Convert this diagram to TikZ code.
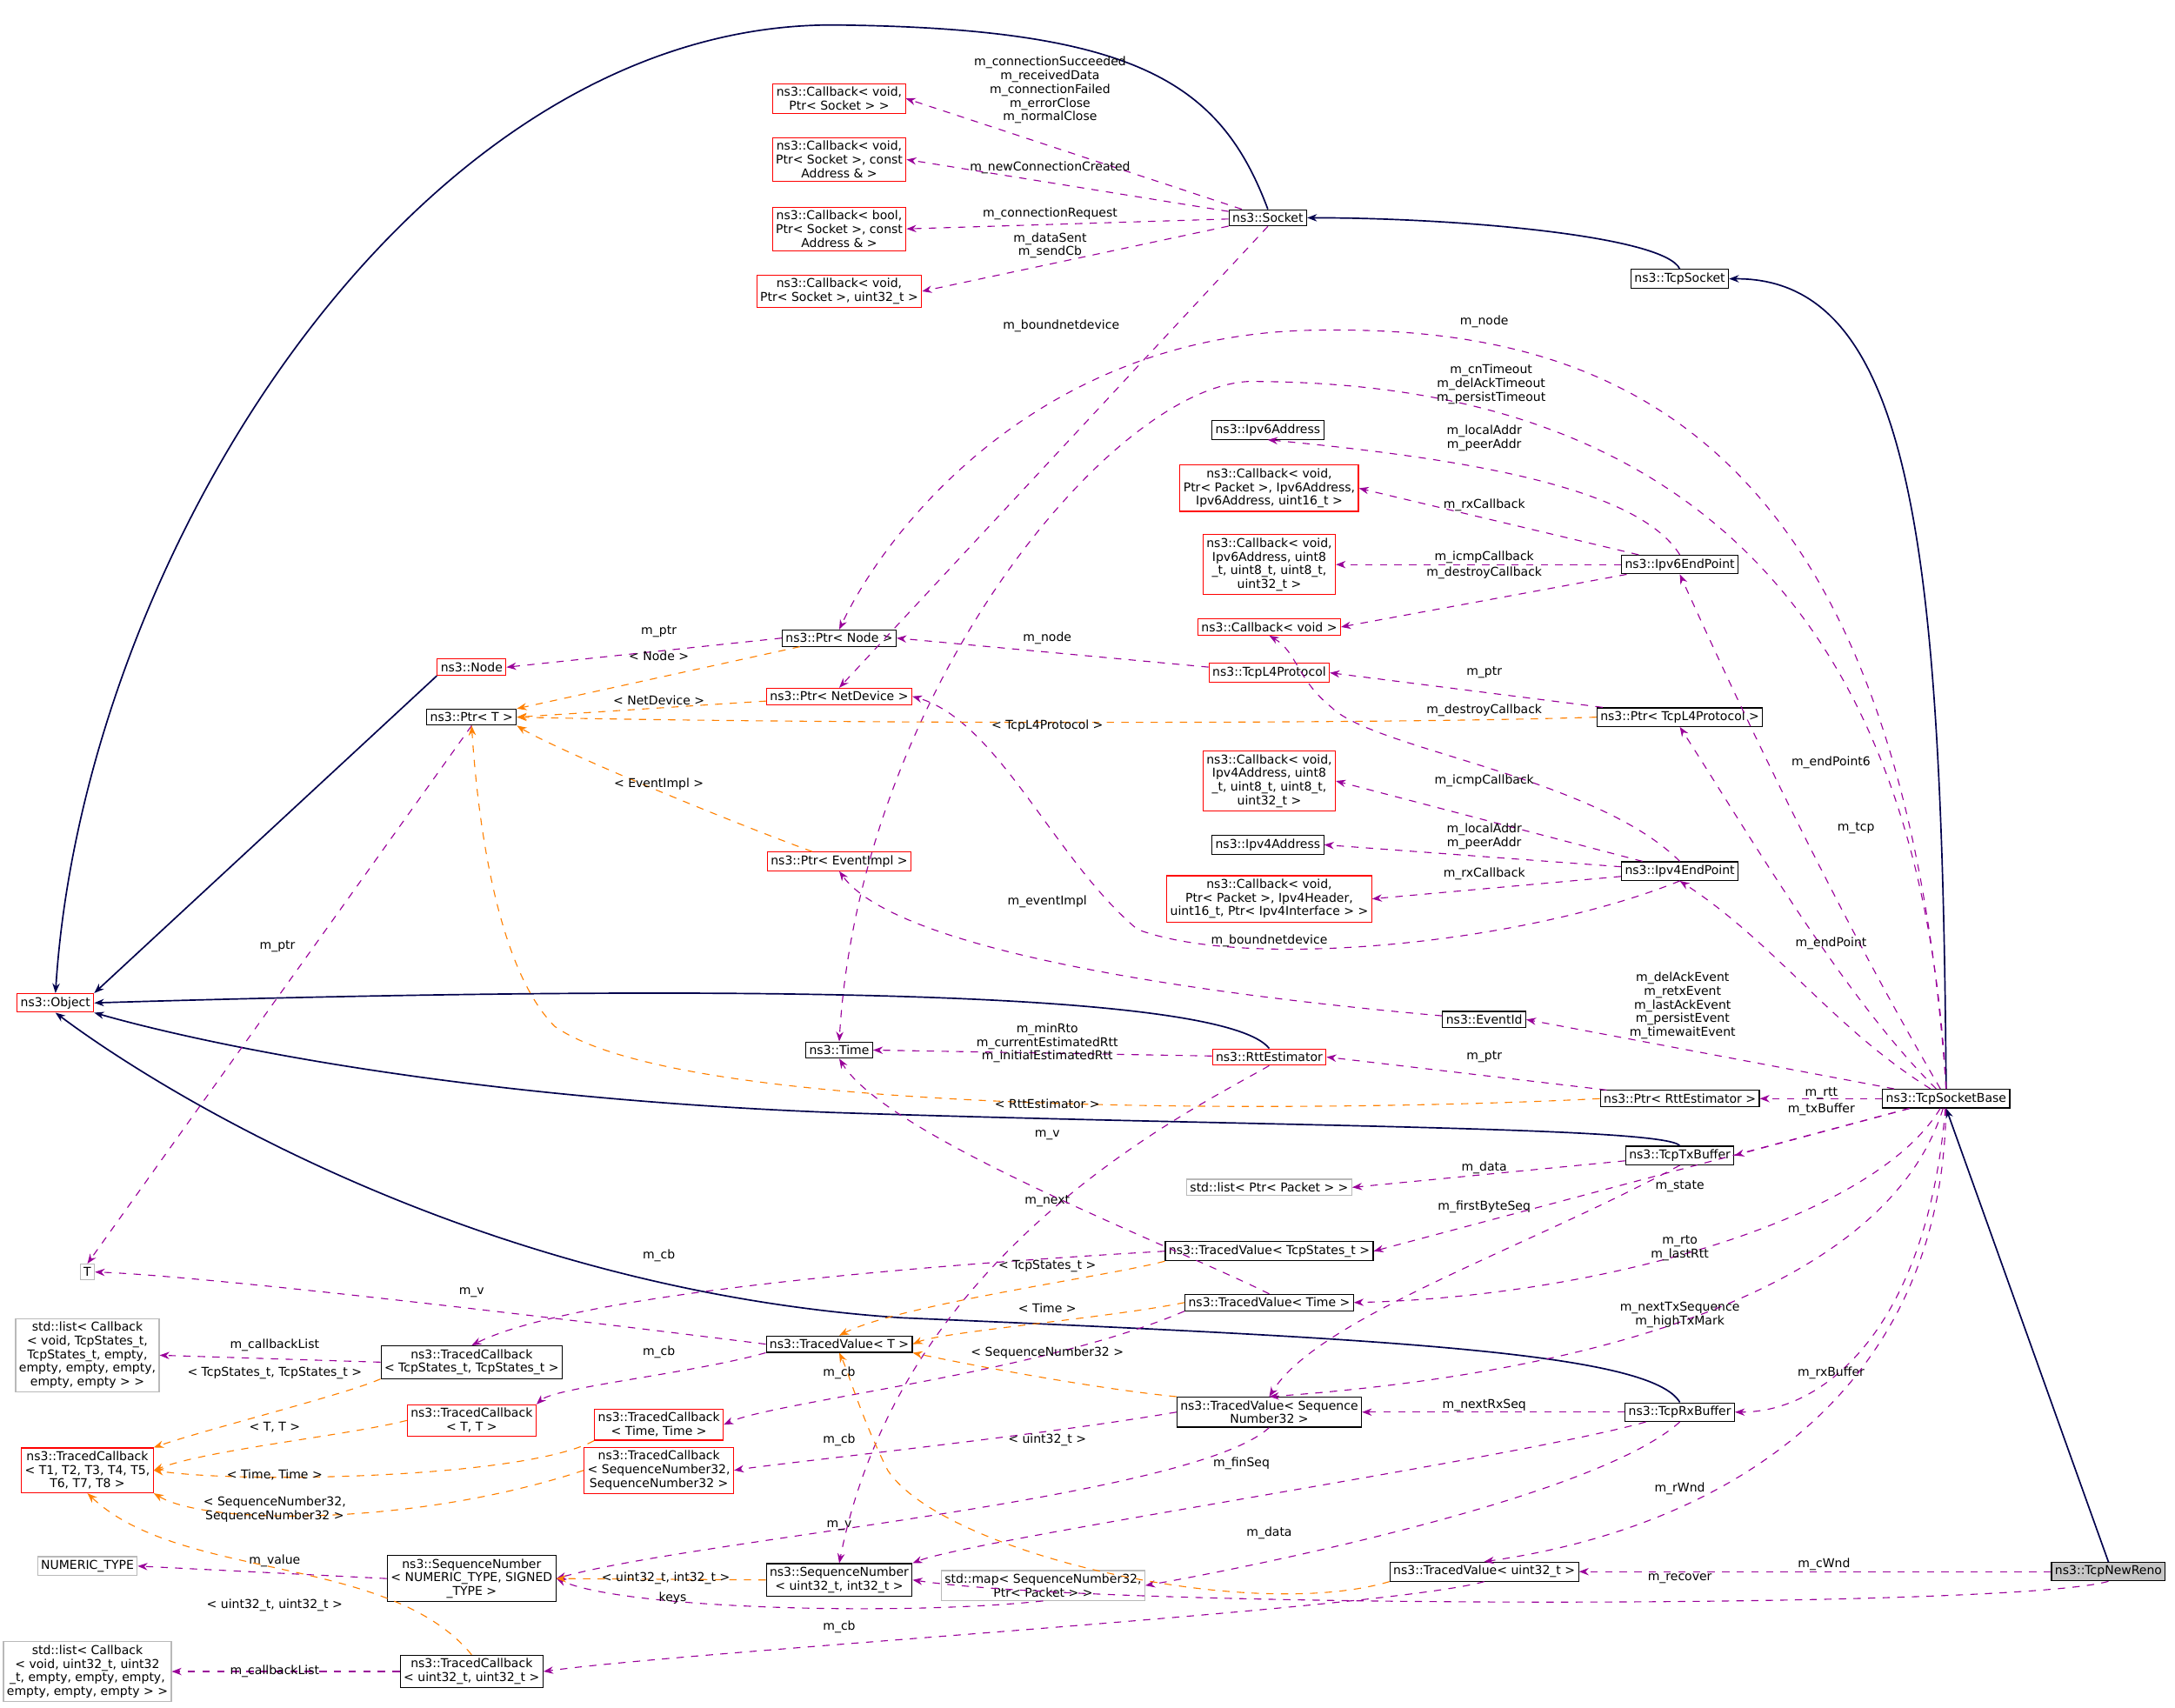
\documentclass[tikz,border=0pt]{standalone}
\usepackage{fontspec}
\setmainfont{DejaVu Sans}
\usetikzlibrary{arrows.meta}
\tikzset{
  cls/.style={draw=black,fill=white,align=center,inner sep=1.4pt,font=\fontsize{5}{5.6}\selectfont},
  bad/.style={cls,draw=red},
  ext/.style={cls,draw=gray!55},
  cur/.style={cls,fill=gray!45},
  lbl/.style={align=center,inner sep=0pt,font=\fontsize{5}{5.6}\selectfont},
  inh/.style={draw=blue!30!black,semithick,-{Stealth[length=4pt]}},
  use/.style={draw=violet!80!magenta,dashed,-{Stealth[length=4pt]}},
  tpl/.style={draw=orange,dashed,-{Stealth[length=4pt]}},
}
\begin{document}
\begin{tikzpicture}[x=0.02cm,y=-0.02cm]
\useasboundingbox (0,0) rectangle (1568,1231);
% classes
\node[cls] (sock) at (914,157) {ns3::Socket};
\node[cls] (tcps) at (1211,201) {ns3::TcpSocket};
\node[bad] (cbA) at (605,71) {ns3::Callback< void,\\Ptr< Socket > >};
\node[bad] (cbB) at (605,115) {ns3::Callback< void,\\Ptr< Socket >, const\\Address \& >};
\node[bad] (cbC) at (605,165) {ns3::Callback< bool,\\Ptr< Socket >, const\\Address \& >};
\node[bad] (cbD) at (605,210) {ns3::Callback< void,\\Ptr< Socket >, uint32\_t >};
\node[cls] (ip6a) at (914,310) {ns3::Ipv6Address};
\node[bad] (cbE) at (915,352) {ns3::Callback< void,\\Ptr< Packet >, Ipv6Address,\\Ipv6Address, uint16\_t >};
\node[bad] (cbF) at (915,407) {ns3::Callback< void,\\Ipv6Address, uint8\\\_t, uint8\_t, uint8\_t,\\uint32\_t >};
\node[cls] (ip6e) at (1211,407) {ns3::Ipv6EndPoint};
\node[bad] (cbV) at (915,452) {ns3::Callback< void >};
\node[bad] (l4p) at (915,485) {ns3::TcpL4Protocol};
\node[cls] (pl4) at (1211,517) {ns3::Ptr< TcpL4Protocol >};
\node[cls] (pnode) at (605,460) {ns3::Ptr< Node >};
\node[bad] (pdev) at (605,502) {ns3::Ptr< NetDevice >};
\node[bad] (node) at (340,481) {ns3::Node};
\node[cls] (ptrt) at (340,517) {ns3::Ptr< T >};
\node[bad] (cbG) at (915,563) {ns3::Callback< void,\\Ipv4Address, uint8\\\_t, uint8\_t, uint8\_t,\\uint32\_t >};
\node[cls] (ip4a) at (914,609) {ns3::Ipv4Address};
\node[bad] (cbH) at (915,648) {ns3::Callback< void,\\Ptr< Packet >, Ipv4Header,\\uint16\_t, Ptr< Ipv4Interface > >};
\node[cls] (ip4e) at (1211,628) {ns3::Ipv4EndPoint};
\node[bad] (pev) at (605,621) {ns3::Ptr< EventImpl >};
\node[bad] (obj) at (40,723) {ns3::Object};
\node[cls] (evid) at (1070,735) {ns3::EventId};
\node[cls] (time) at (605,757) {ns3::Time};
\node[bad] (rtt) at (915,762) {ns3::RttEstimator};
\node[cls] (prtt) at (1211,792) {ns3::Ptr< RttEstimator >};
\node[cls] (tsb) at (1403,792) {ns3::TcpSocketBase};
\node[cls] (txb) at (1211,833) {ns3::TcpTxBuffer};
\node[ext] (lpk) at (915,856) {std::list< Ptr< Packet > >};
\node[ext] (tt) at (63,917) {T};
\node[cls] (tvst) at (915,902) {ns3::TracedValue< TcpStates\_t >};
\node[cls] (tvtm) at (915,939) {ns3::TracedValue< Time >};
\node[cls] (tvt) at (605,969) {ns3::TracedValue< T >};
\node[ext] (lcbA) at (63,977) {std::list< Callback\\< void, TcpStates\_t,\\TcpStates\_t, empty,\\empty, empty, empty,\\empty, empty > >};
\node[cls] (tcst) at (340,982) {ns3::TracedCallback\\< TcpStates\_t, TcpStates\_t >};
\node[bad] (tctt) at (340,1024) {ns3::TracedCallback\\< T, T >};
\node[bad] (tctm) at (475,1027) {ns3::TracedCallback\\< Time, Time >};
\node[bad] (tcb) at (63,1060) {ns3::TracedCallback\\< T1, T2, T3, T4, T5,\\T6, T7, T8 >};
\node[cls] (tvsq) at (915,1018) {ns3::TracedValue< Sequence\\Number32 >};
\node[bad] (tcsq) at (475,1060) {ns3::TracedCallback\\< SequenceNumber32,\\SequenceNumber32 >};
\node[cls] (rxb) at (1211,1018) {ns3::TcpRxBuffer};
\node[ext] (num) at (63,1129) {NUMERIC\_TYPE};
\node[cls] (sqn) at (340,1138) {ns3::SequenceNumber\\< NUMERIC\_TYPE, SIGNED\\\_TYPE >};
\node[cls] (sq32) at (605,1139) {ns3::SequenceNumber\\< uint32\_t, int32\_t >};
\node[ext] (map) at (752,1143) {std::map< SequenceNumber32,\\Ptr< Packet > >};
\node[cls] (tvu) at (1070,1133) {ns3::TracedValue< uint32\_t >};
\node[cur] (reno) at (1520,1133) {ns3::TcpNewReno};
\node[ext] (lcbB) at (63,1205) {std::list< Callback\\< void, uint32\_t, uint32\\\_t, empty, empty, empty,\\empty, empty, empty > >};
\node[cls] (tcu) at (340,1205) {ns3::TracedCallback\\< uint32\_t, uint32\_t >};
% inheritance
\draw[inh] (sock.north) .. controls (880,60) and (820,20) .. (600,18) .. controls (300,18) and (60,400) .. (obj.north);
\draw[inh] (tcps.north) .. controls (1200,170) and (1050,157) .. (sock.east);
\draw[inh] (tsb.north) .. controls (1400,400) and (1380,200) .. (tcps.east);
\draw[inh] (reno.north) -- (tsb.south);
\draw[inh] (node.south west) -- (obj.north east);
\draw[inh] (rtt.north) .. controls (880,712) and (500,710) .. (obj.east);
\draw[inh] (txb.north) .. controls (1200,812) and (900,812) .. (600,802) .. controls (300,790) and (120,745) .. (obj.south east);
\draw[inh] (rxb.north) .. controls (1190,975) and (1000,965) .. (650,950) .. controls (350,930) and (120,790) .. (obj.south);
% members
\draw[use] (sock) -- (cbA.east); \node[lbl] (lA) at (757,65) {m\_connectionSucceeded\\m\_receivedData\\m\_connectionFailed\\m\_errorClose\\m\_normalClose};
\draw[use] (sock) -- (cbB.east); \node[lbl] (lB) at (757,121) {m\_newConnectionCreated};
\draw[use] (sock) -- (cbC.east); \node[lbl] (lC) at (757,154) {m\_connectionRequest};
\draw[use] (sock) -- (cbD.east); \node[lbl] (lD) at (757,177) {m\_dataSent\\m\_sendCb};
\draw[use] (sock.south) -- (pdev.north); \node[lbl] (lE) at (765,235) {m\_boundnetdevice};
\draw[use] (tsb.north) .. controls (1370,300) and (1150,235) .. (950,238) .. controls (750,240) and (640,380) .. (pnode.north); \node[lbl] (lF) at (1070,232) {m\_node};
\draw[use] (tsb.north) .. controls (1380,340) and (1100,275) .. (900,275) .. controls (800,280) and (620,500) .. (time.north); \node[lbl] (lG) at (1075,277) {m\_cnTimeout\\m\_delAckTimeout\\m\_persistTimeout};
\draw[use] (ip6e.north) .. controls (1180,350) and (1050,330) .. (ip6a.south); \node[lbl] (lH) at (1070,316) {m\_localAddr\\m\_peerAddr};
\draw[use] (ip6e) -- (cbE.east); \node[lbl] (lI) at (1070,364) {m\_rxCallback};
\draw[use] (ip6e) -- (cbF.east); \node[lbl] (lJ) at (1070,402) {m\_icmpCallback};
\draw[use] (ip6e) -- (cbV.east); \node[lbl] (lK) at (1070,413) {m\_destroyCallback};
\draw[use] (tsb) .. controls (1320,650) and (1250,500) .. (ip6e.south); \node[lbl] (lL) at (1320,550) {m\_endPoint6};
\draw[use] (l4p) -- (pnode.east); \node[lbl] (lM) at (755,460) {m\_node};
\draw[use] (pnode.west) -- (node.east); \node[lbl] (lN) at (475,455) {m\_ptr};
\draw[use] (pl4) -- (l4p.east); \node[lbl] (lO) at (1070,485) {m\_ptr};
\draw[use] (ip4e.north) .. controls (1150,560) and (990,540) .. (960,510) .. controls (935,490) and (935,470) .. (cbV.south); \node[lbl] (lP) at (1070,512) {m\_destroyCallback};
\draw[use] (tsb) .. controls (1330,720) and (1260,600) .. (pl4.south); \node[lbl] (lQ) at (1338,597) {m\_tcp};
\draw[use] (ip4e) -- (cbG.east); \node[lbl] (lR) at (1070,563) {m\_icmpCallback};
\draw[use] (ip4e) -- (ip4a.east); \node[lbl] (lS) at (1070,603) {m\_localAddr\\m\_peerAddr};
\draw[use] (ip4e) -- (cbH.east); \node[lbl] (lT) at (1070,630) {m\_rxCallback};
\draw[use] (ip4e.south) .. controls (1100,680) and (900,700) .. (820,670) .. controls (760,620) and (720,520) .. (pdev.east); \node[lbl] (lU) at (915,678) {m\_boundnetdevice};
\draw[use] (tsb) .. controls (1320,740) and (1280,680) .. (ip4e.south); \node[lbl] (lV) at (1320,680) {m\_endPoint};
\draw[use] (evid) .. controls (900,720) and (650,690) .. (pev.south); \node[lbl] (lW) at (755,650) {m\_eventImpl};
\draw[use] (tsb) -- (evid.east); \node[lbl] (lX) at (1213,725) {m\_delAckEvent\\m\_retxEvent\\m\_lastAckEvent\\m\_persistEvent\\m\_timewaitEvent};
\draw[use] (rtt) -- (time.east); \node[lbl] (lY) at (755,752) {m\_minRto\\m\_currentEstimatedRtt\\m\_initialEstimatedRtt};
\draw[use] (prtt) -- (rtt.east); \node[lbl] (lZ) at (1070,762) {m\_ptr};
\draw[use] (tsb) -- (prtt.east); \node[lbl] (m1) at (1313,788) {m\_rtt};
\draw[use] (tsb) -- (txb.east); \node[lbl] (m2) at (1313,800) {m\_txBuffer};
\draw[use] (txb) -- (lpk.east); \node[lbl] (m3) at (1070,842) {m\_data};
\draw[use] (tsb) -- (tvst.east); \node[lbl] (m4) at (1211,855) {m\_state};
\draw[use] (txb.south) .. controls (1100,900) and (950,950) .. (tvsq.north); \node[lbl] (m5) at (1070,870) {m\_firstByteSeq};
\draw[use] (tsb) .. controls (1350,880) and (1150,935) .. (tvtm.east); \node[lbl] (m6) at (1211,900) {m\_rto\\m\_lastRtt};
\draw[use] (tsb) .. controls (1360,930) and (1150,990) .. (tvsq.north); \node[lbl] (m7) at (1211,948) {m\_nextTxSequence\\m\_highTxMark};
\draw[use] (tsb) .. controls (1390,950) and (1320,1018) .. (rxb.east); \node[lbl] (m8) at (1320,990) {m\_rxBuffer};
\draw[use] (tsb) .. controls (1400,1000) and (1250,1100) .. (tvu.north); \node[lbl] (m9) at (1211,1073) {m\_rWnd};
\draw[use] (reno) -- (tvu.east); \node[lbl] (n1) at (1315,1128) {m\_cWnd};
\draw[use] (reno.south) .. controls (1450,1160) and (800,1160) .. (sq32.east); \node[lbl] (n2) at (1211,1138) {m\_recover};
\draw[use] (rxb) -- (tvsq.east); \node[lbl] (n3) at (1070,1013) {m\_nextRxSeq};
\draw[use] (rxb) .. controls (1100,1050) and (700,1110) .. (sq32.north east); \node[lbl] (n4) at (895,1055) {m\_finSeq};
\draw[use] (rxb.south) .. controls (1150,1080) and (900,1130) .. (map.east); \node[lbl] (n5) at (915,1105) {m\_data};
\draw[use] (tvsq.south) .. controls (860,1080) and (500,1110) .. (sqn.east); \node[lbl] (n6) at (605,1100) {m\_v};
\draw[use] (tvu.south) .. controls (1000,1160) and (500,1190) .. (tcu.east); \node[lbl] (n7) at (605,1173) {m\_cb};
\draw[use] (rtt.south) .. controls (860,800) and (650,900) .. (sq32.north); \node[lbl] (n8) at (755,866) {m\_next};
\draw[use] (tvtm.north) .. controls (850,900) and (640,820) .. (time.south); \node[lbl] (n9) at (755,818) {m\_v};
\draw[use] (tvst.west) .. controls (700,910) and (420,930) .. (tcst.north); \node[lbl] (o1) at (475,905) {m\_cb};
\draw[use] (tvt.west) .. controls (400,950) and (150,920) .. (tt.east); \node[lbl] (o2) at (340,932) {m\_v};
\draw[use] (tvt.south west) .. controls (500,990) and (400,1000) .. (tctt.north east); \node[lbl] (o3) at (475,975) {m\_cb};
\draw[use] (tvtm.south west) .. controls (750,990) and (560,1010) .. (tctm.east); \node[lbl] (o4) at (605,990) {m\_cb};
\draw[use] (tvsq.west) .. controls (750,1035) and (560,1055) .. (tcsq.east); \node[lbl] (o5) at (605,1038) {m\_cb};
\draw[use] (tcst.west) -- (lcbA.east); \node[lbl] (o6) at (198,970) {m\_callbackList};
\draw[use] (ptrt.south) -- (tt.north); \node[lbl] (o7) at (200,682) {m\_ptr};
\draw[use] (sqn.west) -- (num.east); \node[lbl] (o8) at (198,1125) {m\_value};
\draw[use] (map.south) .. controls (650,1165) and (450,1160) .. (sqn.east); \node[lbl] (o9) at (485,1152) {keys};
\draw[use] (tcu.west) -- (lcbB.east); \node[lbl] (p1) at (198,1205) {m\_callbackList};
% templates
\draw[tpl] (pnode) -- (ptrt.north east); \node[lbl] (q1) at (475,473) {< Node >};
\draw[tpl] (pdev) -- (ptrt.east); \node[lbl] (q2) at (475,505) {< NetDevice >};
\draw[tpl] (pl4.west) .. controls (1000,522) and (600,522) .. (ptrt.east); \node[lbl] (q3) at (755,523) {< TcpL4Protocol >};
\draw[tpl] (pev) .. controls (520,590) and (400,540) .. (ptrt.south east); \node[lbl] (q4) at (475,565) {< EventImpl >};
\draw[tpl] (prtt.west) .. controls (1000,800) and (500,810) .. (400,740) .. controls (360,700) and (345,600) .. (ptrt.south); \node[lbl] (q5) at (755,796) {< RttEstimator >};
\draw[tpl] (tvst.south west) .. controls (800,920) and (650,940) .. (tvt.north); \node[lbl] (q6) at (755,913) {< TcpStates\_t >};
\draw[tpl] (tvtm.west) .. controls (800,950) and (680,960) .. (tvt.east); \node[lbl] (q7) at (755,943) {< Time >};
\draw[tpl] (tvsq.north west) .. controls (780,1000) and (680,980) .. (tvt.south east); \node[lbl] (q8) at (755,975) {< SequenceNumber32 >};
\draw[tpl] (tvu.south west) .. controls (900,1170) and (680,1120) .. (640,1060) .. controls (620,1020) and (612,990) .. (tvt.south); \node[lbl] (q9) at (755,1038) {< uint32\_t >};
\draw[tpl] (sq32.west) -- (sqn.east); \node[lbl] (r1) at (480,1138) {< uint32\_t, int32\_t >};
\draw[tpl] (tcst.south west) .. controls (250,1005) and (150,1030) .. (tcb.north east); \node[lbl] (r2) at (198,990) {< TcpStates\_t, TcpStates\_t >};
\draw[tpl] (tctt.west) .. controls (250,1035) and (150,1045) .. (tcb.east); \node[lbl] (r3) at (198,1029) {< T, T >};
\draw[tpl] (tctm.south west) .. controls (380,1065) and (180,1070) .. (tcb.east); \node[lbl] (r4) at (198,1063) {< Time, Time >};
\draw[tpl] (tcsq.west) .. controls (300,1100) and (150,1100) .. (tcb.south east); \node[lbl] (r5) at (198,1088) {< SequenceNumber32,\\SequenceNumber32 >};
\draw[tpl] (tcu.north) .. controls (280,1120) and (130,1140) .. (tcb.south); \node[lbl] (r6) at (198,1157) {< uint32\_t, uint32\_t >};
\end{tikzpicture}
\end{document}
